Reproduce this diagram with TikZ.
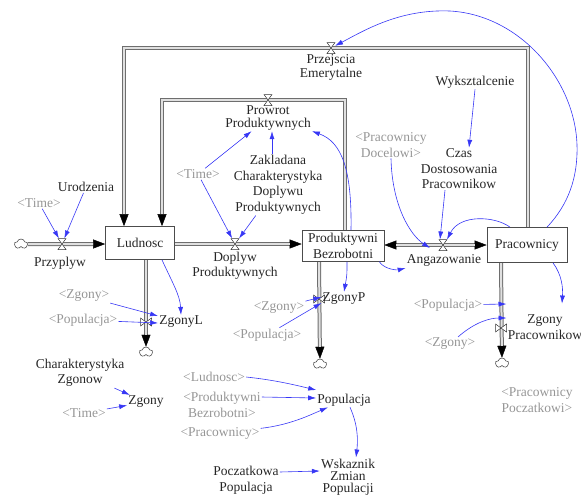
\documentclass[tikz,border=0pt]{standalone}
\usepackage{fontspec}
\setmainfont{Liberation Serif}
\usetikzlibrary{shapes.symbols, arrows.meta, positioning}
\definecolor{linkblue}{RGB}{55,55,245}
\definecolor{shadowgray}{RGB}{150,150,150}
\definecolor{pipegray}{RGB}{110,110,110}
\pgfdeclarelayer{pipes}
\pgfsetlayers{pipes,main}

\begin{document}
\begin{tikzpicture}[x=1pt, y=-1pt,
    font=\fontsize{13.5}{15.5}\selectfont,
    every node/.style={inner sep=1pt, align=center, text=black!85},
    stock/.style={draw=black!70, line width=0.7pt, fill=white},
    shadow/.style={text=shadowgray},
    tight/.style={font=\fontsize{13.5}{12.2}\selectfont},
    cloudy/.style={cloud, cloud puffs=5, aspect=1.3, draw=black!80, line width=0.5pt, fill=white,
        minimum width=13pt, minimum height=10pt, inner sep=0pt},
    valveh/.style={minimum width=8pt, minimum height=11pt, inner sep=0pt, outer sep=0pt},
    valvev/.style={minimum width=11pt, minimum height=8pt, inner sep=0pt, outer sep=0pt},
    valvemark/.style={draw=black!80, fill=white, line width=0.5pt},
    pipeto/.style={draw=pipegray, line width=4pt,
        -{Triangle[length=12pt,width=9pt,line width=0.4pt,color=black,fill=black]},
        postaction={draw=black!12, line width=2pt, -, shorten >=12pt}},
    pipeboth/.style={draw=pipegray, line width=4pt,
        {Triangle[length=12pt,width=9pt,line width=0.4pt,color=black,fill=black]}-{Triangle[length=12pt,width=9pt,line width=0.4pt,color=black,fill=black]},
        postaction={draw=black!12, line width=2pt, -, shorten <=12pt, shorten >=12pt}},
    link/.style={draw=linkblue, line width=0.6pt, -{Latex[length=8pt,width=5pt]}}]

  \useasboundingbox (0,0) rectangle (581,499);

  % stocks
  \node[stock, minimum width=69pt, minimum height=33pt] (ludnosc) at (140,243) {Ludnosc};
  \node[stock, minimum width=82pt, minimum height=31pt] (prodbez) at (343,246) {Produktywni\\Bezrobotni};
  \node[stock, minimum width=80pt, minimum height=35pt] (pracownicy) at (527,245) {Pracownicy};

  % clouds
  \node[cloudy] (cloudin) at (21,244) {};
  \node[cloudy] (cloudl) at (146,352) {};
  \node[cloudy] (cloudp) at (320,364) {};
  \node[cloudy] (cloudpr) at (502,363) {};

  % valves
  \node[valveh] (vprzyp) at (62,244) {};
  \node[valveh] (vdop) at (235,244) {};
  \node[valveh] (vang) at (443,245) {};
  \node[valveh] (vemer) at (331,48) {};
  \node[valveh] (vprow) at (268,100) {};
  \node[valvev] (vzl) at (146,322) {};
  \node[valvev] (vzp) at (319,299) {};
  \node[valvev] (vzpr) at (501,328) {};

  \coordinate (em1) at (528,48);
  \coordinate (em2) at (124,48);
  \coordinate (pr1) at (345,100);
  \coordinate (pr2) at (162,100);

  % pipes
  \begin{pgfonlayer}{pipes}
    \draw[pipeto] (cloudin) -- (ludnosc.west |- cloudin);
    \draw[pipeto] (ludnosc.east |- vdop) -- (prodbez.west |- vdop);
    \draw[pipeboth] (prodbez.east |- vang) -- (pracownicy.west |- vang);
    \draw[pipeto] (pracownicy.north -| em1) -- (em1) -- (em2) -- (ludnosc.north -| em2);
    \draw[pipeto] (prodbez.north -| pr1) -- (pr1) -- (pr2) -- (ludnosc.north -| pr2);
    \draw[pipeto] (ludnosc.south -| vzl) -- (cloudl);
    \draw[pipeto] (prodbez.south -| vzp) -- (cloudp);
    \draw[pipeto] (pracownicy.south -| vzpr) -- (cloudpr);
  \end{pgfonlayer}

  \foreach \v in {vprzyp, vdop, vang, vemer, vprow}
    \draw[valvemark] (\v.north west) -- (\v.north east) -- (\v.south west) -- (\v.south east) -- cycle;
  \foreach \v in {vzl, vzp, vzpr}
    \draw[valvemark] (\v.north west) -- (\v.south west) -- (\v.north east) -- (\v.south east) -- cycle;

  % flow names
  \node (przyplyw) at (60,263) {Przyplyw};
  \node (doplyw) at (235,266) {Doplyw\\Produktywnych};
  \node (angazowanie) at (444,260) {Angazowanie};
  \node[tight] (przejscia) at (331,67.5) {Przejscia\\Emerytalne};
  \node[tight] (prowrot) at (268,118) {Prowrot\\Produktywnych};
  \node (zgonyl) at (181,322) {ZgonyL};
  \node (zgonyp) at (344,299) {ZgonyP};
  \node (zgonypr) at (545,327) {Zgony\\Pracownikow};

  % auxiliaries
  \node (urodzenia) at (86,187) {Urodzenia};
  \node (zakladana) at (278,185) {Zakladana\\Charakterystyka\\Doplywu\\Produktywnych};
  \node (wyksztalcenie) at (475,82) {Wyksztalcenie};
  \node (czas) at (459,169) {Czas\\Dostosowania\\Pracownikow};
  \node (charzgonow) at (80,373) {Charakterystyka\\Zgonow};
  \node (zgony) at (146,402) {Zgony};
  \node (populacja) at (344,400) {Populacja};
  \node[tight] (wskaznik) at (348,477) {Wskaznik\\Zmian\\Populacji};
  \node (poczatkowa) at (246,480) {Poczatkowa\\Populacja};

  % shadow variables
  \node[shadow] (timeprz) at (39,203) {<Time>};
  \node[shadow] (timedop) at (198,174) {<Time>};
  \node[shadow] (docelowi) at (391,145) {<Pracownicy\\Docelowi>};
  \node[shadow] (zgonysl) at (84,296) {<Zgony>};
  \node[shadow] (popsl) at (83,320) {<Populacja>};
  \node[shadow] (zgonysp) at (279,308) {<Zgony>};
  \node[shadow] (popsp) at (267,335) {<Populacja>};
  \node[shadow] (popspr) at (448,305) {<Populacja>};
  \node[shadow] (zgonyspr) at (450,344) {<Zgony>};
  \node[shadow] (timezg) at (84,413) {<Time>};
  \node[shadow] (ludnoscs) at (214,377) {<Ludnosc>};
  \node[shadow] (prodbezs) at (222,405) {<Produktywni\\Bezrobotni>};
  \node[shadow] (pracs) at (220,433) {<Pracownicy>};
  \node[shadow] (poczatkowi) at (537,400) {<Pracownicy\\Poczatkowi>};

  % links
  \draw[link] (timeprz) -- (vprzyp);
  \draw[link] (urodzenia) -- (vprzyp);
  \draw[link] (timedop) -- (vdop);
  \draw[link] (zakladana) -- (vdop);
  \draw[link] (timedop) -- (prowrot);
  \draw[link] ([xshift=-6pt]zakladana.north) -- ([xshift=4pt]prowrot.south);
  \draw[link] ([xshift=8pt]prodbez.north) .. controls (352,170) and (342,142) .. (prowrot.south east);
  \draw[link] ([xshift=22pt]ludnosc.south) .. controls (172,282) and (180,295) .. (zgonyl.north);
  \draw[link] (zgonysl) -- ([yshift=6pt]zgonyl.west);
  \draw[link] (popsl) -- ([yshift=-1pt]zgonyl.west);
  \draw[link] ([xshift=4pt]prodbez.south) .. controls (347,275) .. (zgonyp.north);
  \draw[link] (zgonysp) -- ([yshift=2pt]zgonyp.west);
  \draw[link] (popsp) -- ([yshift=-4pt]zgonyp.west);
  \draw[link] ([xshift=-5pt]prodbez.south east) .. controls (385,270) and (398,270) .. ([yshift=-8pt]angazowanie.west);
  \draw[link] (docelowi.south) .. controls (392,205) and (410,235) .. ([xshift=-13pt,yshift=-3pt]vang.center);
  \draw[link] ([xshift=-14pt]czas.south) -- ([xshift=-3pt]vang.north);
  \draw[link] ([xshift=-17pt]pracownicy.north) .. controls (495,216) and (460,214) .. ([xshift=4pt]vang.north);
  \draw[link] (wyksztalcenie.south) -- ([xshift=10pt]czas.north);
  \draw[link] ([xshift=20pt]pracownicy.north) .. controls (568,205) and (578,178) .. (577,145)
      .. controls (575,80) and (520,15) .. (450,11)
      .. controls (400,9) and (365,30) .. (vemer);
  \draw[link] ([xshift=26pt]pracownicy.south) .. controls (562,275) and (563,288) .. ([xshift=17pt,yshift=10pt]zgonypr.north);
  \draw[link] (popspr) -- ([yshift=24pt]vzpr.east);
  \draw[link] (zgonyspr) .. controls (475,322) and (490,318) .. ([yshift=10pt]vzpr.east);
  \draw[link] (charzgonow) -- (zgony);
  \draw[link] (timezg) -- (zgony);
  \draw[link] (ludnoscs.east) .. controls (275,380) and (295,385) .. ([yshift=10pt]populacja.west);
  \draw[link] ([yshift=8pt]prodbezs.east) -- ([yshift=2pt]populacja.west);
  \draw[link] (pracs) .. controls (290,425) and (310,415) .. ([xshift=-16pt]populacja.south);
  \draw[link] ([xshift=6pt]populacja.south) .. controls (358,425) and (358,440) .. ([xshift=8pt]wskaznik.north);
  \draw[link] ([yshift=8pt]poczatkowa.east) -- ([yshift=6pt]wskaznik.west);
\end{tikzpicture}
\end{document}
